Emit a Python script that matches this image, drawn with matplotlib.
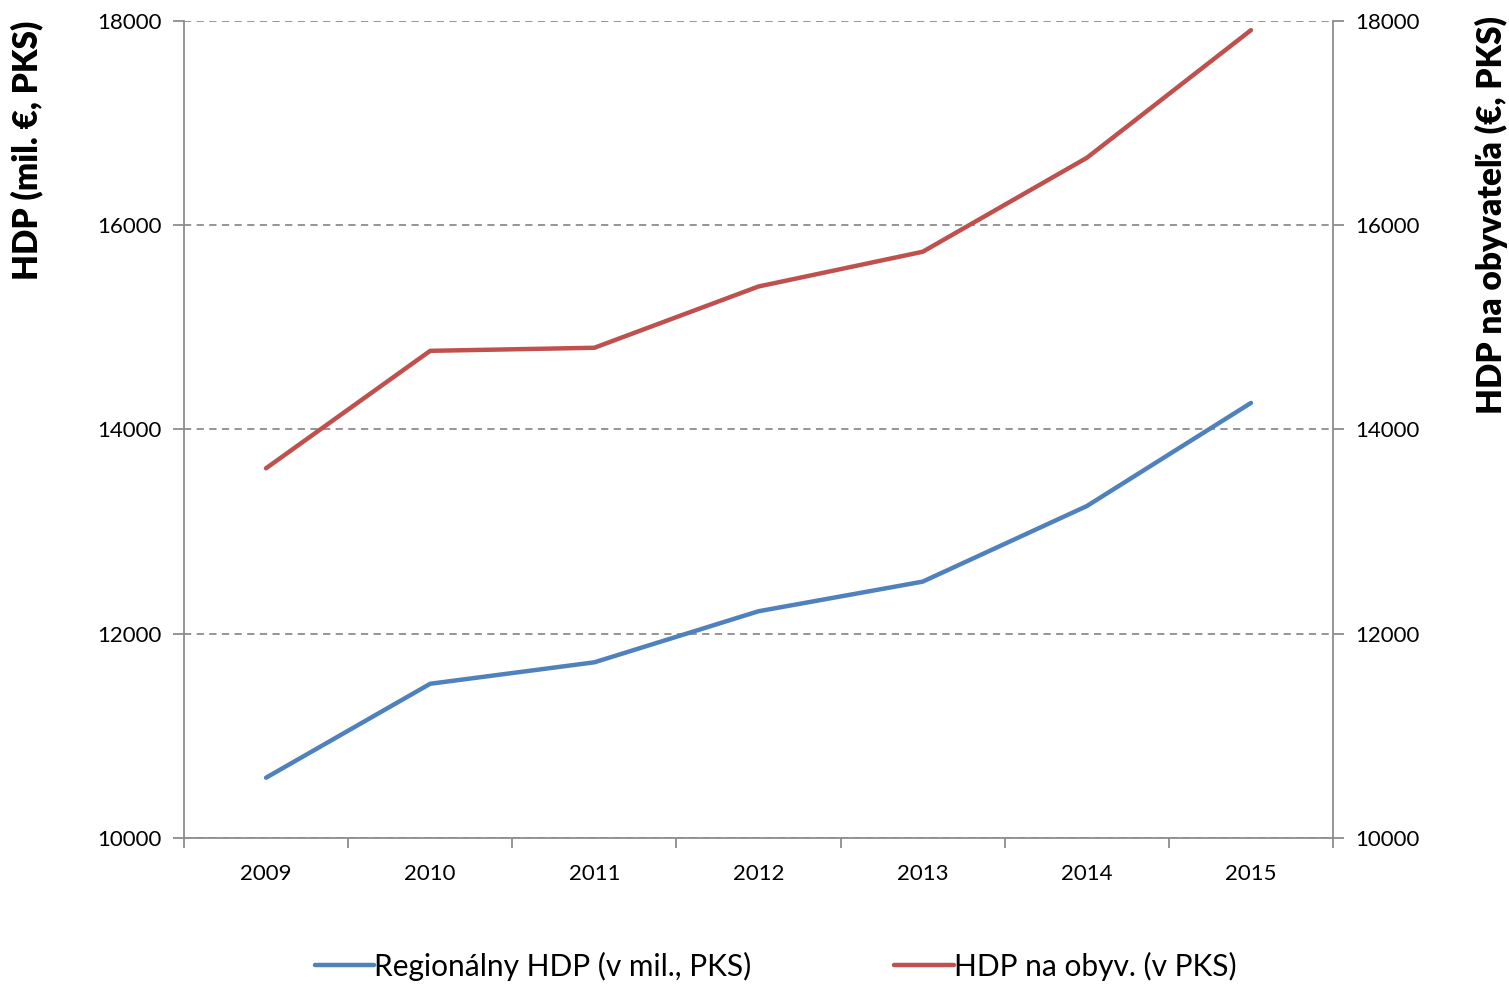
import matplotlib
matplotlib.use("Agg")
import matplotlib.pyplot as plt
import numpy as np

years = ["2009", "2010", "2011", "2012", "2013", "2014", "2015"]
regional_hdp = [10590, 11510, 11720, 12220, 12510, 13250, 14260]
hdp_per_capita = [13620, 14770, 14800, 15400, 15740, 16660, 17910]
yticks = [10000, 12000, 14000, 16000, 18000]

plt.rcParams['font.family'] = ['Lato', 'DejaVu Sans']

fig = plt.figure(figsize=(15.09, 9.84), dpi=100)
ax = fig.add_axes([0.1219, 0.1484, 0.7615, 0.8303])
ax2 = ax.twinx()

x = np.arange(len(years))
blue = "#4F81BD"
red = "#C0504D"
l1, = ax.plot(x, regional_hdp, color=blue, lw=3.2, solid_capstyle='round', label="Regionálny HDP (v mil., PKS)")
l2, = ax2.plot(x, hdp_per_capita, color=red, lw=3.2, solid_capstyle='round', label="HDP na obyv. (v PKS)")

for a in (ax, ax2):
    a.set_ylim(10000, 18000)
    a.set_yticks(yticks)
    a.set_xlim(-0.5, len(years) - 0.5)
    for s in a.spines.values():
        s.set_visible(False)

ax.spines['left'].set_visible(True)
ax.spines['bottom'].set_visible(True)
ax2.spines['right'].set_visible(True)
for s in (ax.spines['left'], ax.spines['bottom'], ax2.spines['right']):
    s.set_color("#8C8C8C")
    s.set_linewidth(1.3)

ax.yaxis.grid(True, linestyle=(0, (4, 3)), color="#8C8C8C", lw=1.3)
ax.set_axisbelow(True)

ax.set_xticks(x)
ax.set_xticklabels(years)
ax.set_xticks(np.arange(-0.5, len(years)), minor=True)
ax.tick_params(axis='x', which='major', length=0, labelsize=16, pad=19)
ax.tick_params(axis='x', which='minor', length=7, width=1.3, color="#8C8C8C", direction='out')
ax.tick_params(axis='y', length=8, width=1.3, color="#8C8C8C", labelsize=16, pad=8)
ax2.tick_params(axis='y', length=8, width=1.3, color="#8C8C8C", labelsize=16, pad=8)

ax.set_ylabel("HDP (mil. €, PKS)", fontsize=24, fontweight='heavy')
ax2.set_ylabel("HDP na obyvateľa (€, PKS)", fontsize=24, fontweight='heavy')
ax.yaxis.set_label_coords(-0.151, 1.0)
ax.yaxis.label.set_va('top')
ax.yaxis.label.set_ha('right')
ax2.yaxis.set_label_coords(1.1235, 1.006)
ax2.yaxis.label.set_ha('right')

fig.legend([l1, l2], [l1.get_label(), l2.get_label()], loc='center', bbox_to_anchor=(0.514, 0.018),
           ncol=2, frameon=False, fontsize=21.5, handlelength=2.0, handletextpad=0.0, columnspacing=4.77)

fig.savefig("out.png", dpi=100)
